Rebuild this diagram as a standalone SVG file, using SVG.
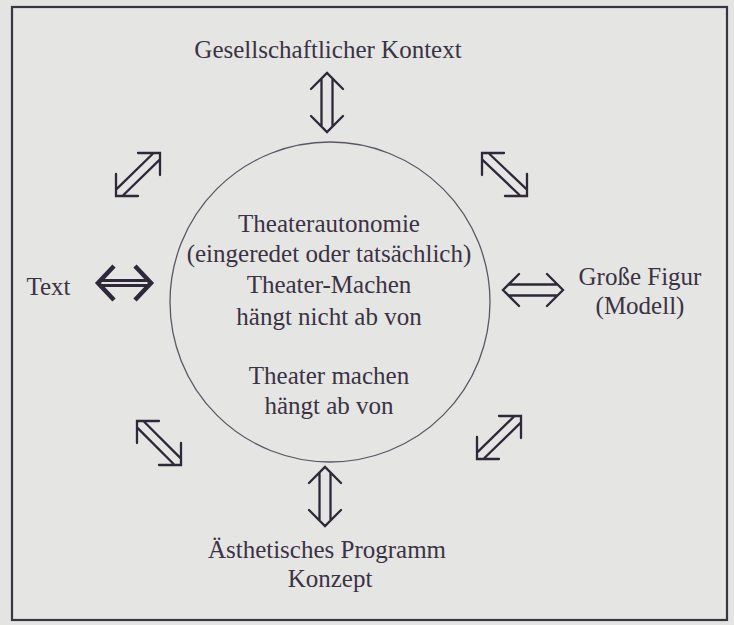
<svg xmlns="http://www.w3.org/2000/svg" width="734" height="625" viewBox="0 0 734 625">
<style>
  .lbl { font-family: "Liberation Serif", "DejaVu Serif", serif; font-size: 25px; fill: #3a3344; text-anchor: middle; }
  .arr { fill: none; stroke: #2e2838; stroke-width: 2.3; stroke-linecap: round; stroke-linejoin: miter; }
  .bold { fill: none; stroke: #2e2838; stroke-width: 4.5; stroke-linejoin: miter; }
  .boldbar { fill: none; stroke: #2e2838; stroke-width: 3; }
</style>
<rect x="0" y="0" width="734" height="625" fill="#e4e4e2"/>
<rect x="12" y="7" width="715" height="613" fill="#e5e5e3" stroke="#3b3444" stroke-width="2.2"/>

<g id="center">
  <circle cx="330" cy="302" r="160" fill="none" stroke="#5d5565" stroke-width="1.3"/>
  <text class="lbl" x="329" y="232">Theaterautonomie</text>
  <text class="lbl" x="329" y="262">(eingeredet oder tatsächlich)</text>
  <text class="lbl" x="329" y="293">Theater-Machen</text>
  <text class="lbl" x="329" y="325">hängt nicht ab von</text>
  <text class="lbl" x="329" y="384">Theater machen</text>
  <text class="lbl" x="329" y="414">hängt ab von</text>
</g>

<g id="gesellschaft">
  <text class="lbl" x="328" y="58">Gesellschaftlicher Kontext</text>
</g>
<g id="text">
  <text class="lbl" x="48.5" y="295">Text</text>
</g>
<g id="figur">
  <text class="lbl" x="640" y="285">Große Figur</text>
  <text class="lbl" x="640" y="314">(Modell)</text>
</g>
<g id="programm">
  <text class="lbl" x="327" y="558">Ästhetisches Programm</text>
  <text class="lbl" x="330" y="587">Konzept</text>
</g>

<g id="connectors">
  <!-- top vertical -->
  <path class="arr" d="M311,89 L327,73 L343,89 M311,116 L327,132 L343,116 M321.5,78.5 L321.5,126.5 M332.5,78.5 L332.5,126.5"/>
  <!-- bottom vertical -->
  <path class="arr" d="M309,483 L325,467 L341,483 M309,510 L325,526 L341,510 M319.5,472.5 L319.5,520.5 M330.5,472.5 L330.5,520.5"/>
  <!-- right horizontal -->
  <path class="arr" d="M519,274 L503,290 L519,306 M547,274 L563,290 L547,306 M508.5,284.5 L557.5,284.5 M508.5,295.5 L557.5,295.5"/>
  <!-- left bold horizontal -->
  <path class="bold" d="M114,266 L98,283 L114,300 M135,266 L151,283 L135,300"/>
  <path class="boldbar" d="M102,280.5 L147,280.5 M102,285.5 L147,285.5"/>
  <!-- top-left diagonal -->
  <path class="arr" d="M138,153 L160,153 L160,175 M116,174 L116,196 L138,196 M116,189.6 L153.6,153 M122.4,196 L160,159.4"/>
  <!-- top-right diagonal -->
  <path class="arr" d="M504,153 L482,153 L482,175 M505,196 L527,196 L527,174 M488.4,153 L527,189.6 M482,159.4 L520.6,196"/>
  <!-- bottom-left diagonal -->
  <path class="arr" d="M159,421 L137,421 L137,443 M159,465 L181,465 L181,443 M143.4,421 L181,458.6 M137,427.4 L174.6,465"/>
  <!-- bottom-right diagonal -->
  <path class="arr" d="M499,416 L521,416 L521,438 M477,437 L477,459 L499,459 M477,452.6 L514.6,416 M483.4,459 L521,422.4"/>
</g>
</svg>
